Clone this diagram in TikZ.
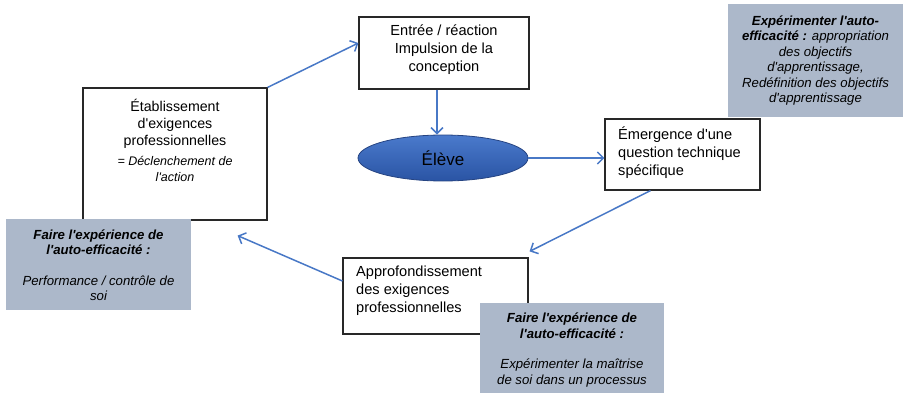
\documentclass[tikz,border=0pt]{standalone}
\usepackage{fontspec}
\setmainfont{Liberation Sans}[Ligatures=TeXOff]
\usetikzlibrary{arrows.meta,shapes.geometric}
\definecolor{arrowblue}{RGB}{72,120,198}
\definecolor{boxline}{RGB}{40,40,40}
\definecolor{grayfill}{RGB}{172,184,202}
\definecolor{elltop}{RGB}{74,122,204}
\definecolor{ellbot}{RGB}{42,84,164}
\definecolor{ellline}{RGB}{38,68,130}
\begin{document}
\begin{tikzpicture}[x=1pt,y=-1pt,
  box/.style={draw=boxline, line width=1.2pt, fill=white, rectangle, inner sep=0pt},
  graybox/.style={fill=grayfill, rectangle, inner sep=0pt},
  flow/.style={draw=arrowblue, line width=1.5pt, -{Straight Barb[length=6pt,width=12pt]}},
  maintext/.style={font=\fontsize{14.6}{18}\selectfont, inner sep=0pt},
  subtext/.style={font=\fontsize{12.5}{16}\selectfont\itshape, align=center, inner sep=0pt},
  notetext/.style={font=\fontsize{13.2}{15.5}\selectfont\itshape, align=center, inner sep=0pt}]
\useasboundingbox (0,0) rectangle (909,393);

% main boxes
\node[box, minimum width=170pt, minimum height=72pt] (entree) at (444,53) {};
\node[maintext, align=center] (entreetxt) at (444,50) {Entrée / réaction\\Impulsion de la\\conception};

\node[ellipse, draw=ellline, line width=0.8pt, top color=elltop, bottom color=ellbot,
      minimum width=170pt, minimum height=46pt, inner sep=0pt,
      font=\fontsize{17}{20}\selectfont] (eleve) at (443,158) {Élève};

\node[box, minimum width=155pt, minimum height=71pt] (emerg) at (682.5,154.5) {};
\node[maintext, align=left, anchor=west] (emergtxt) at (618,153) {Émergence d'une\\question technique\\spécifique};

\node[box, minimum width=184pt, minimum height=132pt] (etab) at (175,154) {};
\node[maintext, align=center, font=\fontsize{14.2}{17}\selectfont] (etabtxt) at (175,124) {Établissement\\d'exigences\\professionnelles};
\node[subtext] (etabsub) at (175,169) {= Déclenchement de\\l'action};

\node[box, minimum width=185pt, minimum height=76pt] (appro) at (435.5,296) {};
\node[maintext, align=left, anchor=west] (approtxt) at (356,291) {Approfondissement\\des exigences\\professionnelles};

% gray note boxes
\node[graybox, minimum width=175pt, minimum height=113pt] (noteTR) at (815.5,60.5) {};
\node[notetext] (noteTRtxt) at (815.5,60.5) {\textbf{Expérimenter l'auto-}\\\textbf{efficacité :} appropriation\\des objectifs\\d'apprentissage,\\Redéfinition des objectifs\\d'apprentissage};

\node[graybox, minimum width=185pt, minimum height=91pt] (noteL) at (98.5,264.5) {};
\node[notetext] (noteLtxt) at (98.5,265) {\textbf{Faire l'expérience de}\\\textbf{l'auto-efficacité :}\\[15pt]Performance / contrôle de\\soi};

\node[graybox, minimum width=184pt, minimum height=90pt] (noteB) at (572,348) {};
\node[notetext] (noteBtxt) at (572,350) {\textbf{Faire l'expérience de}\\\textbf{l'auto-efficacité :}\\[15pt]Expérimenter la maîtrise\\de soi dans un processus};

% connectors
\draw[flow] (etab.north east) -- ([yshift=10pt]entree.west);
\draw[flow] ([xshift=-7pt]entree.south) -- ([xshift=-6pt]eleve.north);
\draw[flow] (eleve.east) -- (eleve.east -| emerg.west);
\draw[flow] ([xshift=-32pt]emerg.south) -- ([xshift=1pt,yshift=6pt]appro.north east);
\draw[flow] ([yshift=15pt]appro.west) -- ([xshift=-30pt,yshift=-15pt]etab.south east);
\end{tikzpicture}
\end{document}
